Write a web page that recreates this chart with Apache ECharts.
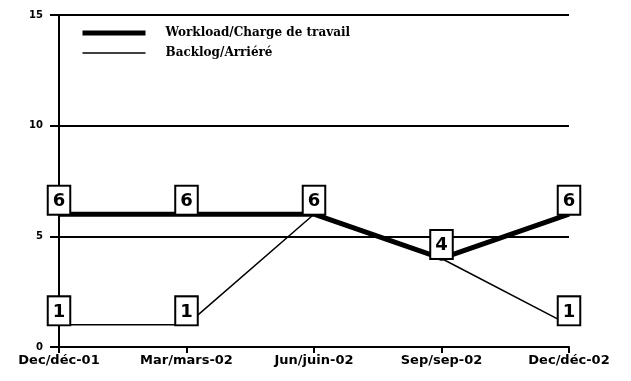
<!DOCTYPE html>
<html>
<head>
<meta charset="utf-8">
<script src="https://cdn.jsdelivr.net/npm/echarts@6/dist/echarts.min.js"></script>
<style>
  html, body { margin: 0; padding: 0; background: #fff; }
  #chart { width: 631px; height: 381px; }
</style>
</head>
<body>
<div id="chart"></div>
<script>
const categories = ['Dec/déc-01', 'Mar/mars-02', 'Jun/juin-02', 'Sep/sep-02', 'Dec/déc-02']
const workload = [6, 6, 6, 4, 6]
const backlog = [1, 1, 6, 4, 1]
const yTicks = [0, 5, 10, 15]

const chart = echarts.init(document.getElementById('chart'))

const boxLabel = {
  show: true,
  position: 'top',
  distance: 0,
  color: '#000',
  fontFamily: 'DejaVu Sans',
  fontWeight: 'bold',
  fontSize: 18,
  lineHeight: 21,
  backgroundColor: '#fff',
  borderColor: '#000',
  borderWidth: 2,
  padding: [4, 4, 2, 4]
}

// backlog labels only where they don't sit on the workload label
const backlogData = backlog.map((v, i) => ({
  value: v,
  label: { show: v !== workload[i] }
}))

chart.setOption({
  animation: false,
  grid: { left: 59, right: 62, top: 15, bottom: 34 },
  legend: {
    orient: 'vertical',
    left: 80,
    top: 27,
    padding: 0,
    itemWidth: 63,
    itemHeight: 14,
    itemGap: 8,
    data: [
      { name: 'Workload/Charge de travail', lineStyle: { width: 5 }, itemStyle: { opacity: 0 } },
      { name: 'Backlog/Arriéré', lineStyle: { width: 1.5 }, itemStyle: { opacity: 0 } }
    ],
    textStyle: {
      color: '#000',
      fontFamily: 'DejaVu Serif',
      fontWeight: 'bold',
      fontSize: 12,
      padding: [0, 0, 0, 15]
    }
  },
  xAxis: {
    type: 'category',
    data: categories,
    boundaryGap: false,
    axisLine: { lineStyle: { color: '#000', width: 2 } },
    axisTick: { show: true, alignWithLabel: true, length: 6, lineStyle: { color: '#000', width: 2 } },
    axisLabel: {
      color: '#000',
      fontFamily: 'DejaVu Sans',
      fontWeight: 'bold',
      fontSize: 13,
      margin: 7
    }
  },
  yAxis: {
    type: 'value',
    min: yTicks[0],
    max: yTicks[yTicks.length - 1],
    interval: 5,
    axisLine: { show: true, lineStyle: { color: '#000', width: 2 } },
    axisTick: { show: true, length: 9, lineStyle: { color: '#000', width: 2 } },
    axisLabel: {
      color: '#000',
      fontFamily: 'DejaVu Sans',
      fontWeight: 'bold',
      fontSize: 10,
      margin: 16
    },
    splitLine: { lineStyle: { color: '#000', width: 2 } }
  },
  series: [
    {
      name: 'Backlog/Arriéré',
      type: 'line',
      data: backlogData,
      symbol: 'circle',
      symbolSize: 1,
      lineStyle: { color: '#000', width: 1.5 },
      itemStyle: { color: '#000' },
      label: boxLabel,
      z: 3
    },
    {
      name: 'Workload/Charge de travail',
      type: 'line',
      data: workload,
      symbol: 'circle',
      symbolSize: 1,
      lineStyle: { color: '#000', width: 5 },
      itemStyle: { color: '#000' },
      label: boxLabel,
      z: 4
    }
  ]
})
</script>
</body>
</html>
